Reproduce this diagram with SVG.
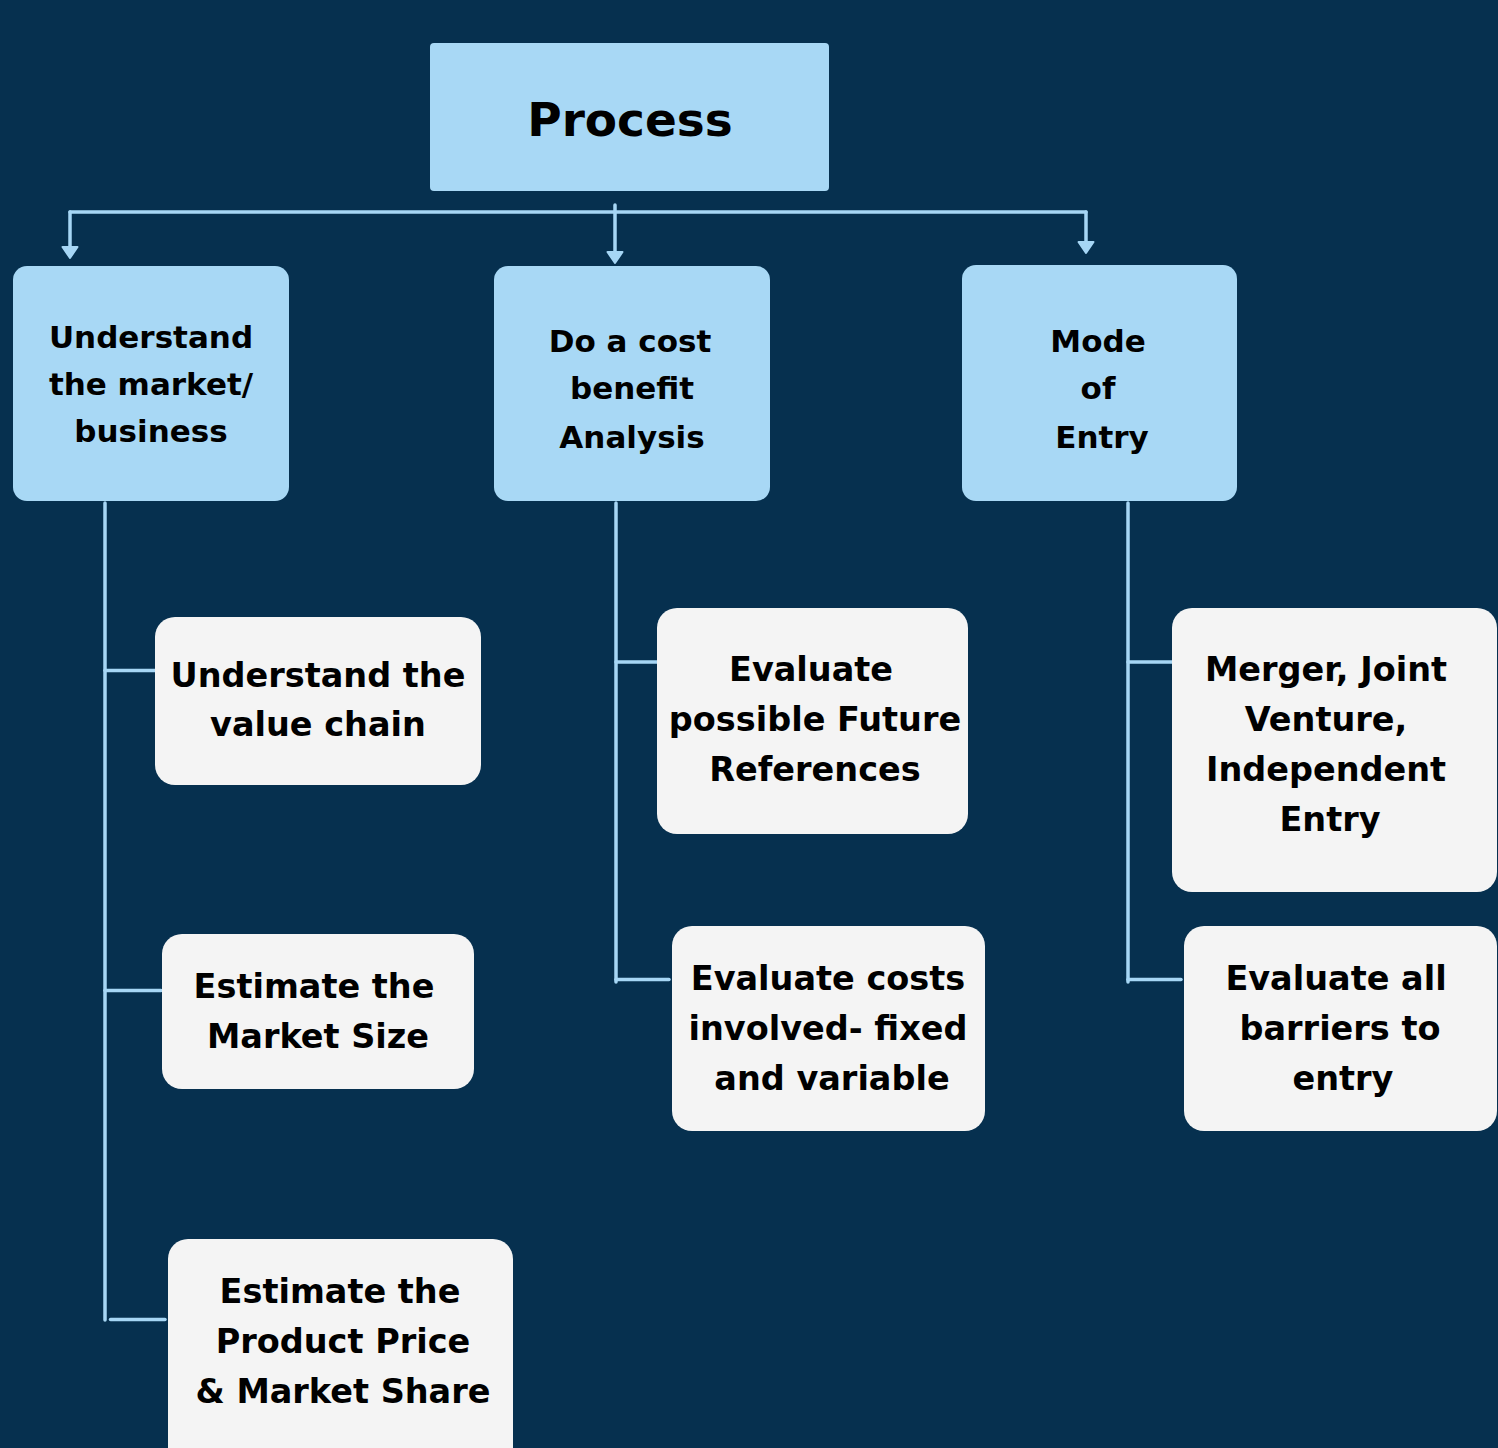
<svg xmlns="http://www.w3.org/2000/svg" width="1498" height="1448" viewBox="0 0 1498 1448">
<style>
.bg{fill:#06304F}
.l1{fill:#A8D8F5}
.l2{fill:#F4F4F4}
.ln{stroke:#A6D6F5;stroke-width:3.5;fill:none;stroke-linecap:round}
.ah{fill:#A6D6F5;stroke:#A6D6F5;stroke-width:2;stroke-linejoin:round}
text{font-family:"DejaVu Sans","Liberation Sans",sans-serif;font-weight:bold;fill:#000;text-anchor:middle}
.t0{font-size:47px}
.t1{font-size:31px}
.t2{font-size:33.5px}
</style>
<rect class="bg" x="0" y="0" width="1498" height="1448"/>
<g id="connectors">
<path class="ln" d="M70 212 H1086"/>
<path class="ln" d="M70 212 V247"/>
<path class="ah" d="M62.5 247 L77.5 247 L70 258 Z"/>
<path class="ln" d="M615 205 V252"/>
<path class="ah" d="M607.5 252 L622.5 252 L615 263 Z"/>
<path class="ln" d="M1086 212 V242"/>
<path class="ah" d="M1078.5 242 L1093.5 242 L1086 253 Z"/>
<path class="ln" d="M105 503 V1320"/>
<path class="ln" d="M105 670.5 H155"/>
<path class="ln" d="M105 990.5 H161"/>
<path class="ln" d="M110.5 1319.5 H165"/>
<path class="ln" d="M616 503 V982"/>
<path class="ln" d="M616 662 H657"/>
<path class="ln" d="M616 979.5 H669"/>
<path class="ln" d="M1128 503 V982"/>
<path class="ln" d="M1128 662 H1172"/>
<path class="ln" d="M1128 979.5 H1181"/>
</g>
<g id="process">
<rect class="l1" x="430" y="43" width="399" height="148" rx="4"/>
<text class="t0" x="630" y="136">Process</text>
</g>
<g id="understand-market">
<rect class="l1" x="13" y="266" width="276" height="235" rx="14"/>
<text class="t1" x="151" y="347.5">Understand</text>
<text class="t1" x="151" y="395">the market/</text>
<text class="t1" x="151" y="442">business</text>
</g>
<g id="cost-benefit">
<rect class="l1" x="494" y="266" width="276" height="235" rx="14"/>
<text class="t1" x="630" y="351.5">Do a cost</text>
<text class="t1" x="632" y="399">benefit</text>
<text class="t1" x="632" y="447.5">Analysis</text>
</g>
<g id="mode-of-entry">
<rect class="l1" x="962" y="265" width="275" height="236" rx="14"/>
<text class="t1" x="1098" y="351.5">Mode</text>
<text class="t1" x="1098" y="399">of</text>
<text class="t1" x="1102" y="447.5">Entry</text>
</g>
<g id="value-chain">
<rect class="l2" x="155" y="617" width="326" height="168" rx="20"/>
<text class="t2" x="318" y="686.5">Understand the</text>
<text class="t2" x="318" y="736">value chain</text>
</g>
<g id="market-size">
<rect class="l2" x="162" y="934" width="312" height="155" rx="20"/>
<text class="t2" x="314" y="998">Estimate the</text>
<text class="t2" x="318" y="1048">Market Size</text>
</g>
<g id="product-price">
<rect class="l2" x="168" y="1239" width="345" height="230" rx="20"/>
<text class="t2" x="340" y="1303">Estimate the</text>
<text class="t2" x="343" y="1353">Product Price</text>
<text class="t2" x="343" y="1403">&amp; Market Share</text>
</g>
<g id="future-references">
<rect class="l2" x="657" y="608" width="311" height="226" rx="20"/>
<text class="t2" x="811" y="681">Evaluate</text>
<text class="t2" x="815" y="731">possible Future</text>
<text class="t2" x="815" y="781">References</text>
</g>
<g id="costs">
<rect class="l2" x="672" y="926" width="313" height="205" rx="20"/>
<text class="t2" x="828" y="989.5">Evaluate costs</text>
<text class="t2" x="828" y="1039.5">involved- fixed</text>
<text class="t2" x="832" y="1089.5">and variable</text>
</g>
<g id="merger">
<rect class="l2" x="1172" y="608" width="325" height="284" rx="20"/>
<text class="t2" x="1326" y="681">Merger, Joint</text>
<text class="t2" x="1326" y="731">Venture,</text>
<text class="t2" x="1326" y="781">Independent</text>
<text class="t2" x="1330" y="831">Entry</text>
</g>
<g id="barriers">
<rect class="l2" x="1184" y="926" width="313" height="205" rx="20"/>
<text class="t2" x="1336" y="990">Evaluate all</text>
<text class="t2" x="1340" y="1040">barriers to</text>
<text class="t2" x="1343" y="1090">entry</text>
</g>
</svg>
